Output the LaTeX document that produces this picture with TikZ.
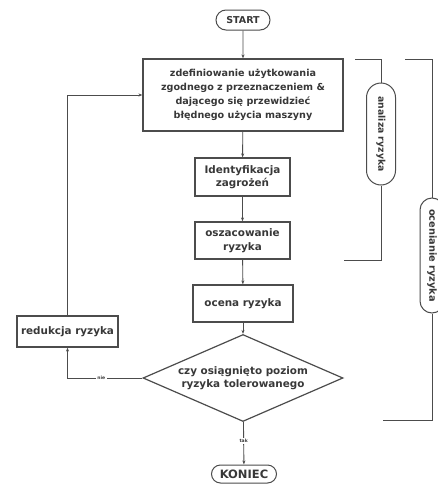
\documentclass[tikz,border=0pt]{standalone}
\usepackage{fontspec}
\setmainfont{DejaVu Sans}
\usetikzlibrary{shapes.geometric,shapes.misc,arrows.meta}
\definecolor{ink}{gray}{0.22}
\definecolor{lin}{gray}{0.3}
\begin{document}
\begin{tikzpicture}[x=1pt,y=-1pt,
  every node/.style={font=\bfseries\fontsize{10.4}{13.5}\selectfont,text=ink},
  box/.style={draw=lin,line width=1.2pt,rectangle,inner sep=0pt,align=center},
  pill/.style={draw=lin,line width=1pt,rounded rectangle,inner sep=0pt,align=center},
  conn/.style={draw=lin,line width=0.9pt,-{Stealth[length=4pt,width=3pt]}},
  brk/.style={draw=lin,line width=0.8pt},
  small/.style={font=\bfseries\fontsize{4.5}{5}\selectfont,fill=white,inner sep=1.5pt}]
\useasboundingbox (0,0) rectangle (437,485);
\fill[white] (0,0) rectangle (437,485);
\node[pill,minimum width=54pt,minimum height=20pt,font=\bfseries\fontsize{9.5}{10}\selectfont] (start) at (243,20) {START};
\node[box,minimum width=200pt,minimum height=72pt,font=\bfseries\fontsize{9.6}{13.8}\selectfont] (b1) at (243,95)
  {zdefiniowanie użytkowania\\zgodnego z przeznaczeniem \&\\dającego się przewidzieć\\błędnego użycia maszyny};
\node[box,minimum width=95pt,minimum height=38pt] (b2) at (242.5,177) {Identyfikacja\\zagrożeń};
\node[box,minimum width=95pt,minimum height=37pt] (b3) at (242.5,240.5) {oszacowanie\\ryzyka};
\node[box,minimum width=100pt,minimum height=37pt] (b4) at (243,303.5) {ocena ryzyka};
\node[box,diamond,shape aspect=2.3,minimum width=200pt,minimum height=87pt] (dia) at (243,378)
  {czy osiągnięto poziom\\ryzyka tolerowanego};
\node[box,minimum width=101pt,minimum height=31pt] (red) at (67.5,331.5) {redukcja ryzyka};
\node[pill,minimum width=65pt,minimum height=18pt,font=\bfseries\fontsize{11.5}{12}\selectfont] (kon) at (244,474) {KONIEC};
\draw[conn] (start) -- (b1);
\draw[conn] (b1) -- (b2);
\draw[conn] (b2) -- (b3);
\draw[conn] (b3) -- (b4);
\draw[conn] (b4) -- (dia);
\draw[conn] (dia) -- node[small,pos=0.45] {tak} (kon);
\draw[conn] (dia.west) -- node[small,pos=0.55] {nie} (red.south |- dia.west) -- (red.south);
\draw[conn] (red.north) |- (b1.west);
% brackets
\coordinate (a1) at (355,59);
\coordinate (a2) at (344,260);
\node[pill,rotate=-90,minimum width=102pt,minimum height=29pt,font=\bfseries\fontsize{9.3}{10}\selectfont] (an) at (381,134) {analiza ryzyka};
\draw[brk] (a1) -| (an.west);
\draw[brk] (an.east) |- (a2);
\coordinate (o1) at (405,59);
\coordinate (o2) at (383,420);
\node[pill,rotate=-90,minimum width=115pt,minimum height=24pt,font=\bfseries\fontsize{9.8}{10}\selectfont] (oc) at (432,255.5) {ocenianie ryzyka};
\draw[brk] (o1) -| (oc.west);
\draw[brk] (oc.east) |- (o2);
\end{tikzpicture}
\end{document}
